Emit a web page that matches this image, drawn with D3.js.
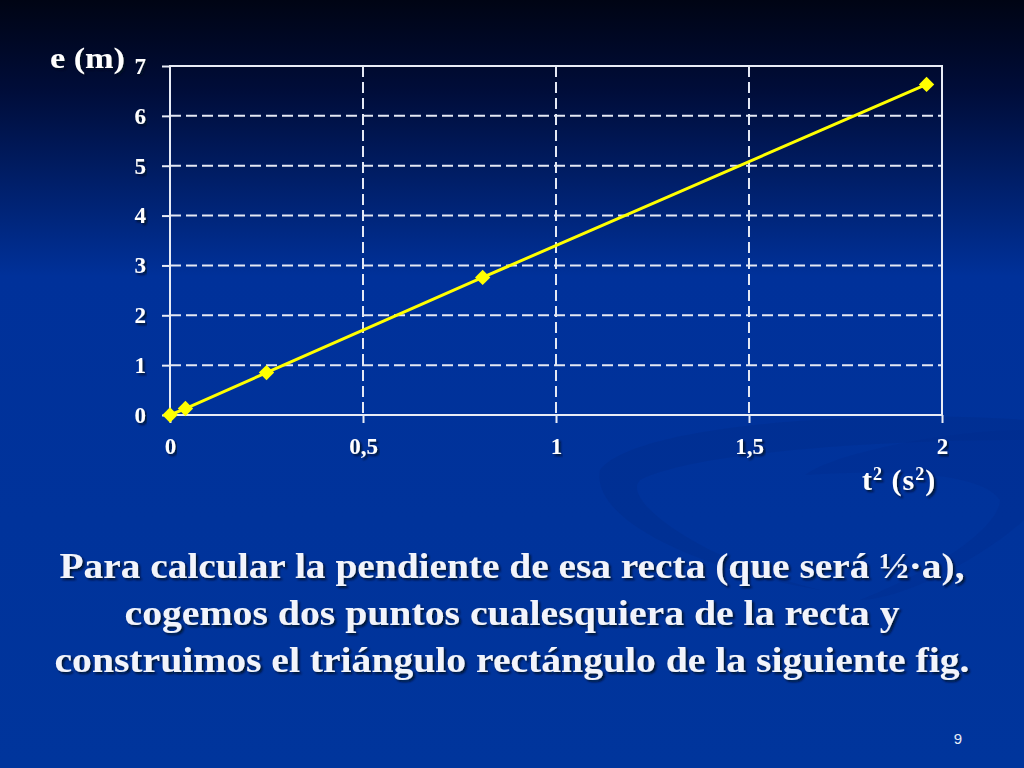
<!DOCTYPE html>
<html>
<head>
<meta charset="utf-8">
<script src="https://cdn.jsdelivr.net/npm/d3@7"></script>
<style>
  body { margin: 0; background: #00339a; }
  svg { display: block; }
  .tick text { font-family: "Liberation Serif", serif; font-weight: bold; fill: #fff; }
</style>
</head>
<body>
<div id="chart"></div>
<script>
// datos: t² (s²) frente a e (m)
const t2Values = [0, 0.04, 0.25, 0.81, 1.96];
const eValues = [0, 0.13, 0.85, 2.76, 6.63];
const xTicks = [0, 0.5, 1, 1.5, 2];
const yTicks = [0, 1, 2, 3, 4, 5, 6, 7];
const textLines = [
  "Para calcular la pendiente de esa recta (que será ½·a),",
  "cogemos dos puntos cualesquiera de la recta y",
  "construimos el triángulo rectángulo de la siguiente fig."
];
const lineWidths = [905, 775, 915];

const W = 1024, H = 768;
const plot = { left: 170, right: 942, top: 66, bottom: 415 };

const svg = d3.select('#chart').append('svg')
    .attr('width', W)
    .attr('height', H);

const defs = svg.append('defs');
const grad = defs.append('linearGradient')
    .attr('id', 'bg').attr('x1', 0).attr('y1', 0).attr('x2', 0).attr('y2', 1);
grad.append('stop').attr('offset', '0%').attr('stop-color', '#000414');
grad.append('stop').attr('offset', '12%').attr('stop-color', '#000d3a');
grad.append('stop').attr('offset', '36%').attr('stop-color', '#00319a');
grad.append('stop').attr('offset', '100%').attr('stop-color', '#00359c');

const shadow = defs.append('filter').attr('id', 'sombra')
    .attr('x', '-5%').attr('y', '-20%').attr('width', '110%').attr('height', '140%');
shadow.append('feDropShadow')
    .attr('dx', 2).attr('dy', 2).attr('stdDeviation', 0.8)
    .attr('flood-color', '#000820').attr('flood-opacity', 0.85);

svg.append('rect').attr('width', W).attr('height', H).attr('fill', 'url(#bg)');

// adorno de fondo (curvas tenues)
svg.append('path')
    .attr('d', 'M600,470 C640,420 900,410 1024,420 L1024,440 C900,440 700,450 640,480 C620,500 700,560 820,590 C700,570 590,520 600,470 Z')
    .attr('fill', '#002a86').attr('opacity', 0.3);
svg.append('path')
    .attr('d', 'M805,475 C840,450 960,430 1024,430 L1024,520 C980,560 900,600 860,600 C960,560 1000,520 1000,500 C980,470 880,470 805,475 Z')
    .attr('fill', '#002c8a').attr('opacity', 0.3);

const x = d3.scaleLinear().domain([0, 2]).range([plot.left, plot.right]);
const y = d3.scaleLinear().domain([0, 7]).range([plot.bottom, plot.top]);

const g = svg.append('g');

// rejilla discontinua
g.selectAll('.hgrid')
    .data(yTicks.filter(v => v > 0 && v < 7))
  .enter().append('line')
    .attr('x1', plot.left).attr('x2', plot.right)
    .attr('y1', d => y(d)).attr('y2', d => y(d))
    .attr('stroke', '#e4e8f4').attr('stroke-width', 2)
    .attr('stroke-dasharray', '11,5');

g.selectAll('.vgrid')
    .data(xTicks.filter(v => v > 0 && v < 2))
  .enter().append('line')
    .attr('x1', d => x(d)).attr('x2', d => x(d))
    .attr('y1', plot.top).attr('y2', plot.bottom)
    .attr('stroke', '#e4e8f4').attr('stroke-width', 2)
    .attr('stroke-dasharray', '11,5');

// marco
g.append('rect')
    .attr('x', plot.left).attr('y', plot.top)
    .attr('width', plot.right - plot.left).attr('height', plot.bottom - plot.top)
    .attr('fill', 'none').attr('stroke', '#e8ecf6').attr('stroke-width', 2);

// ejes
const xAxis = g.append('g')
    .attr('transform', `translate(0,${plot.bottom})`)
    .call(d3.axisBottom(x).tickValues(xTicks).tickSize(8).tickPadding(15)
        .tickFormat(d => String(d).replace('.', ',')));
xAxis.select('.domain').remove();
xAxis.selectAll('line').attr('stroke', '#e8ecf6').attr('stroke-width', 2);
xAxis.selectAll('text').attr('font-size', 23).attr('filter', 'url(#sombra)');

const yAxis = g.append('g')
    .attr('transform', `translate(${plot.left},0)`)
    .call(d3.axisLeft(y).tickValues(yTicks).tickSize(8).tickPadding(16)
        .tickFormat(d => String(d)));
yAxis.select('.domain').remove();
yAxis.selectAll('line').attr('stroke', '#e8ecf6').attr('stroke-width', 2);
yAxis.selectAll('text').attr('font-size', 23).attr('filter', 'url(#sombra)');

// serie
const pts = t2Values.map((v, i) => [v, eValues[i]]);
g.append('path')
    .datum(pts)
    .attr('fill', 'none')
    .attr('stroke', '#ffff00')
    .attr('stroke-width', 3)
    .attr('d', d3.line().x(d => x(d[0])).y(d => y(d[1])));

g.selectAll('.punto')
    .data(pts)
  .enter().append('path')
    .attr('transform', d => `translate(${x(d[0])},${y(d[1])})`)
    .attr('d', d3.symbol().type(d3.symbolDiamond2).size(150))
    .attr('fill', '#ffff00');

// títulos de los ejes
svg.append('text')
    .attr('x', 50).attr('y', 68)
    .attr('font-family', 'Liberation Serif, serif').attr('font-weight', 'bold')
    .attr('font-size', 29).attr('fill', '#fff').attr('filter', 'url(#sombra)')
    .attr('textLength', 75).attr('lengthAdjust', 'spacingAndGlyphs')
    .text('e (m)');

const xt = svg.append('text')
    .attr('x', 862).attr('y', 490)
    .attr('font-family', 'Liberation Serif, serif').attr('font-weight', 'bold')
    .attr('font-size', 30).attr('fill', '#fff').attr('filter', 'url(#sombra)')
    .attr('letter-spacing', 1);
xt.append('tspan').text('t');
xt.append('tspan').attr('dy', -10).attr('font-size', 18).text('2');
xt.append('tspan').attr('dy', 10).text(' (s');
xt.append('tspan').attr('dy', -10).attr('font-size', 18).text('2');
xt.append('tspan').attr('dy', 10).text(')');

// texto explicativo
svg.selectAll('.linea')
    .data(textLines)
  .enter().append('text')
    .attr('x', W / 2)
    .attr('y', (d, i) => 578 + i * 47)
    .attr('text-anchor', 'middle')
    .attr('font-family', 'Liberation Serif, serif').attr('font-weight', 'bold')
    .attr('font-size', 35).attr('fill', '#f2f4fb')
    .attr('textLength', (d, i) => lineWidths[i]).attr('lengthAdjust', 'spacingAndGlyphs')
    .attr('filter', 'url(#sombra)')
    .text(d => d);

svg.append('text')
    .attr('x', 958).attr('y', 744)
    .attr('text-anchor', 'middle')
    .attr('font-family', 'Liberation Sans, Arial, sans-serif')
    .attr('font-size', 15).attr('fill', '#e8ecf6')
    .text('9');
</script>
</body>
</html>
